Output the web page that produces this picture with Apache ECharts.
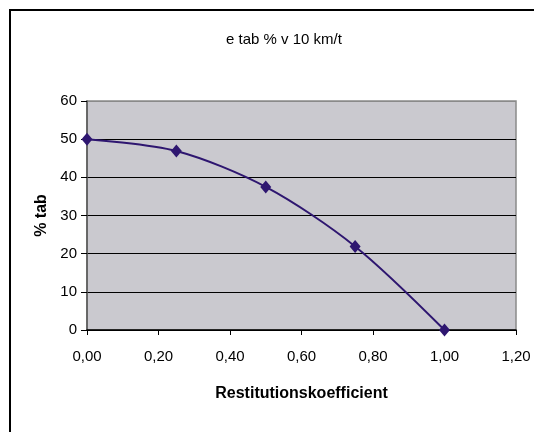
<!DOCTYPE html>
<html>
<head>
<meta charset="utf-8">
<script src="https://cdn.jsdelivr.net/npm/echarts@6/dist/echarts.min.js"></script>
<style>
html,body{margin:0;padding:0;background:#fff;}
#main{width:534px;height:432px;}
</style>
</head>
<body>
<div id="main"></div>
<script>
// Data
const titleText = 'e tab % v 10 km/t';
const xName = 'Restitutionskoefficient';
const yName = '% tab';
const restitution = [0, 0.25, 0.5, 0.75, 1.0];
const tabPct = [50, 46.9, 37.5, 21.9, 0];

const chart = echarts.init(document.getElementById('main'), null, {renderer: 'canvas'});
const font = '"Liberation Sans", Arial, sans-serif';
const seriesData = restitution.map((x, i) => [x, tabPct[i]]);

chart.setOption({
  animation: false,
  backgroundColor: '#ffffff',
  title: {
    text: titleText,
    left: 279,
    textAlign: 'center',
    top: 27,
    textStyle: {fontFamily: font, fontSize: 15, fontWeight: 'normal', color: '#000'}
  },
  graphic: [{
    type: 'rect',
    shape: {x: 10, y: 10, width: 600, height: 500},
    style: {fill: 'none', stroke: '#000', lineWidth: 2},
    silent: true,
    z: -1
  }],
  grid: {
    left: 87, top: 101, right: 18, bottom: 102,
    show: true,
    backgroundColor: '#cac9cf',
    borderColor: '#8a8a8a',
    borderWidth: 1.5
  },
  xAxis: {
    type: 'value',
    min: 0, max: 1.2, interval: 0.2,
    name: xName,
    nameLocation: 'middle',
    nameGap: 56,
    nameTextStyle: {fontFamily: font, fontSize: 16, fontWeight: 'bold', color: '#000'},
    axisLine: {onZero: false, lineStyle: {color: '#000', width: 1.5}},
    axisTick: {show: true, inside: false, length: 5, lineStyle: {color: '#000'}},
    axisLabel: {
      margin: 19,
      fontFamily: font, fontSize: 15, color: '#000',
      formatter: v => v.toFixed(2).replace('.', ',')
    },
    splitLine: {show: false}
  },
  yAxis: {
    type: 'value',
    min: 0, max: 60, interval: 10,
    name: yName,
    nameLocation: 'middle',
    nameGap: 36,
    nameTextStyle: {fontFamily: font, fontSize: 16, fontWeight: 'bold', color: '#000'},
    axisLine: {show: true, lineStyle: {color: '#555', width: 1.5}},
    axisTick: {show: true, inside: false, length: 6, lineStyle: {color: '#000'}},
    axisLabel: {margin: 10, fontFamily: font, fontSize: 15, color: '#000'},
    splitLine: {show: true, lineStyle: {color: ['#000','#000','#000','#000','#000','#000','#8a8a8a'], width: 1}}
  },
  series: [{
    type: 'line',
    data: seriesData,
    smooth: 0.3,
    symbol: 'diamond',
    symbolSize: [11, 13],
    lineStyle: {color: '#2e1670', width: 2},
    itemStyle: {color: '#2e1670'}
  }]
});
</script>
</body>
</html>
